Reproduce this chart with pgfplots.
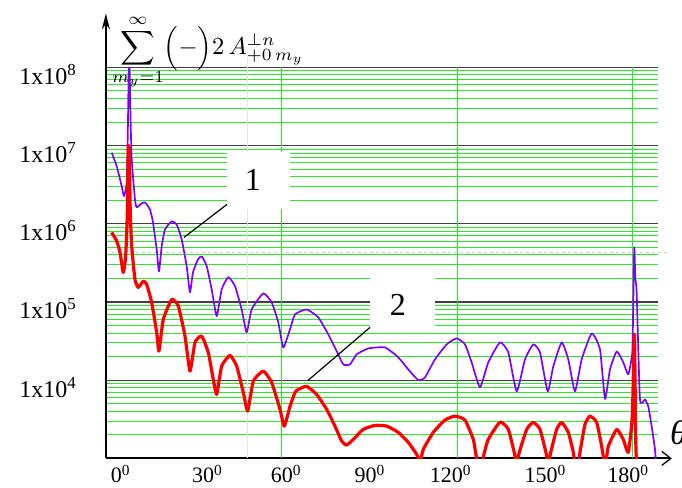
\documentclass[border=0pt]{standalone}
\usepackage{fontspec}
\setmainfont{Liberation Serif}
\usepackage{pgfplots}
\usepackage{pgfplotstable}
\pgfplotsset{compat=1.18}
\usetikzlibrary{arrows.meta}
\definecolor{cviolet}{HTML}{8000FF}
\definecolor{cgreen}{HTML}{22EE22}
\definecolor{cmajor}{HTML}{404040}

% deg = angle theta in degrees, lg = log10 of the sum
\pgfplotstableread{
deg lg
1.78 6.91
3.49 6.738
5.20 6.482
5.98 6.354
6.91 6.529
7.35 7.3
7.6 8.0
7.9 8.0
8.2 7.4
8.62 6.824
9.74 6.312
10.32 6.21
12.03 6.261
13.16 6.274
14.87 6.184
15.90 6.018
17.16 5.673
17.95 5.391
18.87 5.711
20.0 5.928
22.29 6.031
24.0 5.992
25.71 5.801
27.42 5.455
28.55 5.123
29.57 5.378
31.28 5.545
32.55 5.583
34.26 5.459
35.97 5.161
37.68 4.82
39.38 5.161
41.64 5.318
43.93 5.203
46.22 4.905
47.93 4.611
49.64 4.905
53.61 5.11
56.48 4.995
58.74 4.739
60.44 4.419
62.74 4.65
64.44 4.841
68.44 4.905
72.41 4.803
75.83 4.586
78.70 4.372
80.96 4.202
83.25 4.202
85.54 4.33
89.50 4.406
95.21 4.419
99.76 4.292
103.18 4.138
106.60 4.001
108.89 4.036
112.31 4.266
116.31 4.458
119.73 4.535
122.56 4.458
124.85 4.228
127.69 3.908
130.53 4.228
134.53 4.483
137.37 4.355
140.24 3.857
143.08 4.266
145.91 4.458
148.21 4.355
150.84 3.857
152.75 4.176
155.62 4.483
157.88 4.266
160.17 3.857
162.46 4.266
165.88 4.598
168.72 4.394
170.43 3.76
172.14 4.138
174.43 4.368
176.68 4.228
178.39 4.074
179.76 4.355
180.1 5.0
180.44 5.70
180.8 5.3
181.26 5.12
182.39 3.754
184.10 3.754
185.23 3.665
186.39 3.409
187.52 3.115
187.9 2.9
}\curveone

\pgfplotstableread{
deg lg
1.78 5.89
3.49 5.779
4.62 5.634
5.74 5.378
6.56 5.587
7.1 6.1
7.45 6.95
7.8 6.95
8.1 6.2
8.62 5.715
9.74 5.289
10.87 5.187
12.58 5.267
13.74 5.225
15.45 4.995
17.16 4.611
17.95 4.372
19.42 4.778
22.29 5.033
24.55 4.948
26.84 4.564
28.55 4.116
30.26 4.483
32.55 4.564
34.80 4.355
36.51 4.01
37.68 3.818
39.38 4.18
42.22 4.317
44.51 4.18
46.77 3.844
48.27 3.605
50.19 3.988
53.61 4.116
56.48 3.972
59.32 3.627
60.79 3.413
62.74 3.665
64.44 3.844
65.57 3.882
68.44 3.921
71.86 3.818
75.28 3.627
78.12 3.413
80.41 3.221
82.12 3.171
84.38 3.243
87.79 3.371
91.79 3.422
95.79 3.413
99.76 3.333
103.18 3.205
106.05 3.051
107.2 2.95
108.31 3.115
111.73 3.333
115.73 3.49
119.15 3.541
122.56 3.49
125.40 3.243
126.4 3.03
127.7 2.8
128.9 3.03
130.53 3.243
134.53 3.464
137.37 3.371
139.66 3.03
140.2 2.8
140.79 3.03
143.66 3.371
145.91 3.46
148.21 3.371
150.50 3.03
151.1 2.8
151.62 3.03
153.91 3.371
155.62 3.46
157.88 3.333
159.59 3.077
160.7 2.8
161.88 3.077
163.59 3.435
165.30 3.541
167.59 3.46
169.30 3.154
170.1 2.95
170.43 2.8
170.8 2.95
171.56 3.154
174.43 3.371
176.68 3.243
178.39 3.077
179.76 3.537
180.5 4.586
180.9 3.3
181.3 2.8
}\curvetwo

\begin{document}
\begin{tikzpicture}
\useasboundingbox (-105.9pt,-28.6pt) rectangle (576.1pt,458.4pt);
\begin{axis}[
  at={(0pt,0pt)}, anchor=south west,
  x=2.925pt, y=78.2pt,
  xmin=-0.2, xmax=188.5, ymin=3, ymax=8,
  axis lines=left,
  clip mode=individual,
  x axis line style={line width=2pt, -{Straight Barb[length=9pt,width=14pt,line width=1.3pt]}, shorten >=-14pt},
  y axis line style={line width=2pt, -{Stealth[length=16pt,width=8pt]}, shorten >=-54pt},
  major tick length=0pt, minor tick length=0pt,
  xtick={0,30,60,90,120,150,180},
  xticklabels={\hspace*{28pt}0\textsuperscript{0},\hspace*{26pt}30\textsuperscript{0},\hspace*{8pt}60\textsuperscript{0},90\textsuperscript{0},120\textsuperscript{0}\hspace*{14pt},150\textsuperscript{0},180\textsuperscript{0}\hspace*{10pt}},
  xticklabel style={font=\fontsize{22}{26}\selectfont, yshift=-3pt},
  ytick={4,5,6,7,8},
  yticklabels={1x10\textsuperscript{4},1x10\textsuperscript{5},1x10\textsuperscript{6},1x10\textsuperscript{7},1x10\textsuperscript{8}},
  yticklabel style={font=\fontsize{24}{28}\selectfont, anchor=east, xshift=-26pt, yshift=-7pt},
  minor ytick={3.30103,3.47712,3.60206,3.69897,3.77815,3.84510,3.90309,3.95424,
               4.30103,4.47712,4.60206,4.69897,4.77815,4.84510,4.90309,4.95424,
               5.30103,5.47712,5.60206,5.69897,5.77815,5.84510,5.90309,5.95424,
               6.30103,6.47712,6.60206,6.69897,6.77815,6.84510,6.90309,6.95424,
               7.30103,7.47712,7.60206,7.69897,7.77815,7.84510,7.90309,7.95424},
  ymajorgrids, yminorgrids,
  major grid style={cmajor, line width=1.2pt},
  minor grid style={cgreen, line width=1pt},
  extra x ticks={60,120,180},
  extra x tick labels={},
  extra x tick style={xmajorgrids=true, ymajorgrids=false, major grid style={cgreen, line width=1pt}},
]
\draw[gray!22, line width=1pt] (axis cs:48.1,3) -- (axis cs:48.1,8.13);
\draw[gray!35, dashed, line width=0.8pt] (axis cs:2,5.638) -- (axis cs:191.5,5.638);

\addplot[cviolet, line width=1.7pt, line join=round, smooth, tension=0.3] table[x=deg, y=lg] {\curveone};
\addplot[red, line width=3.2pt, line join=round, smooth, tension=0.3] table[x=deg, y=lg] {\curvetwo};

% callout 1
\node[fill=white, minimum width=63pt, minimum height=57pt, inner sep=0pt] at (axis cs:51.97,6.549) {};
\node[inner sep=0pt] at (axis cs:50.09,6.555) {\fontsize{32}{36}\selectfont 1};
\draw[black, line width=1.2pt] (axis cs:41.2,6.248) -- (axis cs:26.5,5.826);
% callout 2
\node[fill=white, minimum width=65pt, minimum height=56pt, inner sep=0pt] at (axis cs:101.2,5.008) {};
\node[inner sep=0pt] at (axis cs:99.66,4.969) {\fontsize{32}{36}\selectfont 2};
\draw[black, line width=1.2pt] (axis cs:90.09,4.675) -- (axis cs:68.89,3.997);

% axis titles
\node[anchor=base west, inner sep=0pt] at (axis cs:1.88,8.166) {\scalebox{2.4}{$\displaystyle\sum_{m_y=1}^{\infty}$}\scalebox{2.45}{$\Bigl(-\Bigr)2\,A^{\perp n}_{+0\,m_y}$}};
\node[anchor=west, inner sep=0pt] at (axis cs:192.6,3.333) {\fontsize{34}{38}\selectfont\textit{θ}};
\end{axis}
\end{tikzpicture}
\end{document}
